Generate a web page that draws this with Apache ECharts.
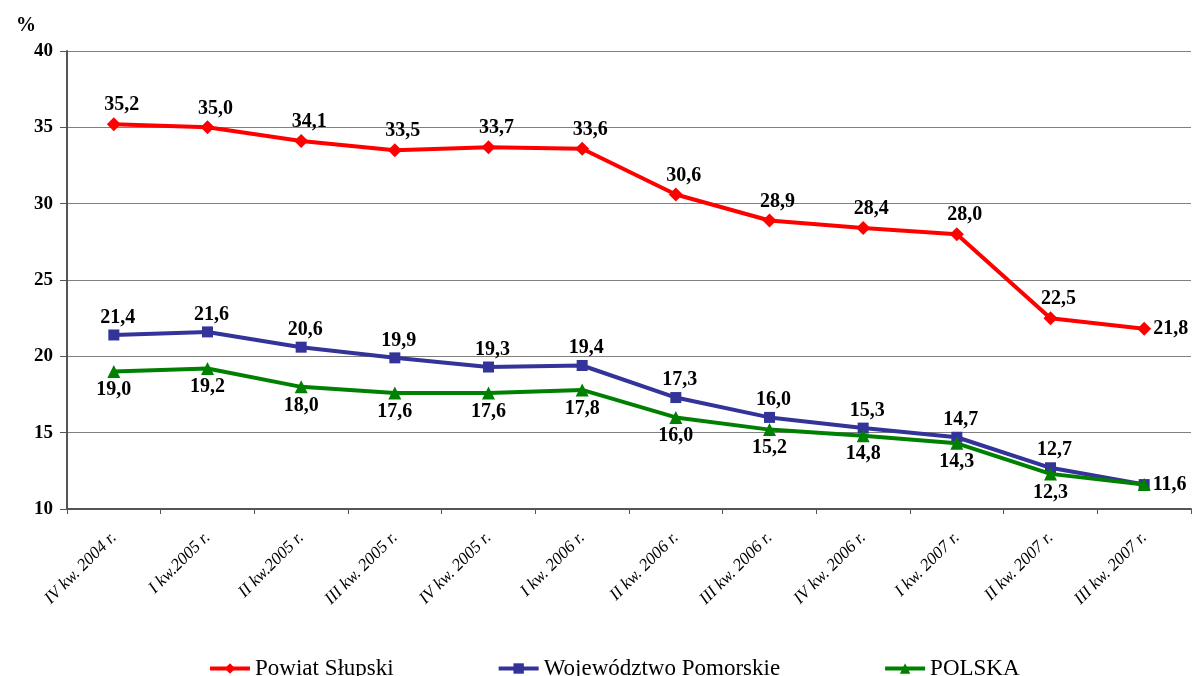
<!DOCTYPE html>
<html><head><meta charset="utf-8">
<script src="https://cdn.jsdelivr.net/npm/echarts@6/dist/echarts.min.js"></script>
<style>html,body{margin:0;padding:0;background:#fff}#c{width:1192px;height:676px}</style>
</head><body><div id="c"></div>
<script>
const categories = ["IV kw. 2004 r.","I kw.2005 r.","II kw.2005 r.","III kw. 2005 r.","IV kw. 2005 r.","I kw. 2006 r.","II kw. 2006 r.","III kw. 2006 r.","IV kw. 2006 r.","I kw. 2007 r.","II kw. 2007 r.","III kw. 2007 r."];
const powiat = [35.2,35.0,34.1,33.5,33.7,33.6,30.6,28.9,28.4,28.0,22.5,21.8];
const wojewodztwo = [21.4,21.6,20.6,19.9,19.3,19.4,17.3,16.0,15.3,14.7,12.7,11.6];
const polska = [19.0,19.2,18.0,17.6,17.6,17.8,16.0,15.2,14.8,14.3,12.3,11.6];
const seriesNames = ["Powiat Słupski","Województwo Pomorskie","POLSKA"];

const FONT = "Liberation Serif";
const fmt = p => p.value.toFixed(1).replace('.', ',');
const lbl = (pos, off) => ({show:true, position:pos, formatter:fmt, fontFamily:FONT, fontWeight:'bold', fontSize:20, color:'#000', distance:2, offset:off});

const chart = echarts.init(document.getElementById('c'));
chart.setOption({
  animation:false,
  backgroundColor:'#fff',
  title:{text:'%', left:11, top:11, textStyle:{fontFamily:FONT, fontWeight:'bold', fontSize:20, color:'#000'}},
  grid:{left:67, right:1, top:51, bottom:167, containLabel:false},
  legend:{
    left:203, top:652, itemGap:103, itemWidth:40, itemHeight:13,
    textStyle:{fontFamily:FONT, fontSize:23, color:'#000'},
    lineStyle:{width:4},
    data:seriesNames
  },
  xAxis:{
    type:'category', data:categories, boundaryGap:true,
    axisLine:{lineStyle:{color:'#555', width:2}},
    axisTick:{show:true, alignWithLabel:false, length:5, lineStyle:{color:'#555'}},
    axisLabel:{rotate:45, interval:0, margin:26, fontFamily:FONT, fontStyle:'italic', fontSize:17, color:'#000'},
    splitLine:{show:false}
  },
  yAxis:{
    type:'value', min:10, max:40, interval:5,
    axisLine:{show:true, lineStyle:{color:'#555', width:2}},
    axisTick:{show:true, length:7, lineStyle:{color:'#555'}},
    axisLabel:{fontFamily:FONT, fontWeight:'bold', fontSize:19, color:'#000', margin:14},
    splitLine:{lineStyle:{color:'#808080', width:1}}
  },
  series:[
    {name:seriesNames[0], type:'line', data:powiat.map((v,i)=> i===powiat.length-1 ? {value:v, label:{position:'right', offset:[0,0]}} : v),
     symbol:'diamond', symbolSize:14, color:'#FF0000', lineStyle:{width:4, color:'#FF0000'},
     itemStyle:{color:'#FF0000'}, label:lbl('top',[8,0]), z:3},
    {name:seriesNames[1], type:'line', data:wojewodztwo.map((v,i)=> i===wojewodztwo.length-1 ? {value:v, label:{show:false}} : v),
     symbol:'rect', symbolSize:11, color:'#333399', lineStyle:{width:4, color:'#333399'},
     itemStyle:{color:'#333399'}, label:lbl('top',[4,0]), z:4},
    {name:seriesNames[2], type:'line', data:polska.map((v,i)=> i===polska.length-1 ? {value:v, label:{position:'right', offset:[0,0]}} : v),
     symbol:'triangle', symbolSize:13, color:'#008000', lineStyle:{width:4, color:'#008000'},
     itemStyle:{color:'#008000'}, label:lbl('bottom',[0,0]), z:5}
  ]
});
</script></body></html>
